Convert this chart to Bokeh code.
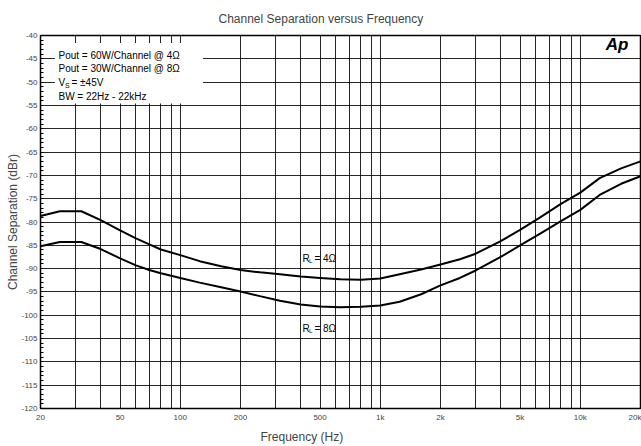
from bokeh.plotting import figure
from bokeh.models import FixedTicker, Range1d, Title
from bokeh.core.properties import value
from bokeh.embed import file_html
from bokeh.resources import INLINE

# ---- data ----
freq = [20, 25, 32, 40, 50, 60, 70, 80, 100, 125, 160, 200, 250, 315, 400, 500,
        630, 800, 1000, 1250, 1600, 2000, 2500, 3000, 4000, 5000, 6300, 8000, 10000,
        12500, 16000, 20000]
sep_4ohm = [-78.7, -77.7, -77.7, -79.6, -81.8, -83.5, -84.8, -85.9, -87.1, -88.4,
            -89.5, -90.3, -90.8, -91.2, -91.7, -92.0, -92.3, -92.4, -92.1, -91.2,
            -90.2, -89.1, -88.0, -86.8, -84.1, -81.7, -79.0, -76.1, -73.7, -70.6,
            -68.5, -67.0]
sep_8ohm = [-85.2, -84.3, -84.3, -85.8, -87.8, -89.3, -90.3, -91.0, -92.0, -93.0,
            -94.0, -94.9, -95.9, -96.9, -97.7, -98.1, -98.3, -98.2, -97.9, -97.1,
            -95.5, -93.6, -92.0, -90.4, -87.5, -85.0, -82.5, -79.8, -77.4, -74.2,
            -71.8, -70.2]

x_ticks = [20, 50, 100, 200, 500, 1000, 2000, 5000, 10000, 20000]
x_tick_labels = ["20", "50", "100", "200", "500", "1k", "2k", "5k", "10k", "20k"]
x_grid = [20, 30, 40, 50, 60, 70, 80, 90, 100, 200, 300, 400, 500, 600, 700, 800,
          900, 1000, 2000, 3000, 4000, 5000, 6000, 7000, 8000, 9000, 10000, 20000]
y_ticks = [-120, -115, -110, -105, -100, -95, -90, -85, -80, -75, -70, -65, -60,
           -55, -50, -45, -40]
y_minor = list(range(-120, -39))
y_tick_labels = [str(v) for v in y_ticks]

title_text = "Channel Separation versus Frequency"
x_label = "Frequency (Hz)"
y_label = "Channel Separation (dBr)"
info_lines = ["Pout = 60W/Channel @ 4\u03a9", "Pout = 30W/Channel @ 8\u03a9"]
info_bw = "BW = 22Hz - 22kHz"
vs_rest = "= \u00b145V"
rl_values = ["= 4\u03a9", "= 8\u03a9"]

FONT = "Liberation Sans"

p = figure(width=641, height=446, x_axis_type="log",
           x_range=Range1d(20, 20000), y_range=Range1d(-120, -40),
           output_backend="svg", toolbar_location=None,
           min_border_left=40, min_border_right=1, min_border_top=35,
           min_border_bottom=38)

p.background_fill_color = "white"
p.border_fill_color = "white"
p.outline_line_color = "black"
p.outline_line_width = 1.5

# title
p.title.text = title_text
p.title.align = "left"
p.title.offset = 178
p.title.standoff = 19
p.title.text_font = FONT
p.title.text_font_size = "12px"
p.title.text_font_style = "normal"

# x axis
p.xaxis.ticker = FixedTicker(ticks=x_ticks)
p.xaxis.major_label_overrides = dict(zip(x_ticks, x_tick_labels))
p.xaxis.major_label_text_font = FONT
p.xaxis.major_label_text_font_size = "8px"
p.xaxis.major_tick_in = 0
p.xaxis.major_tick_out = 0
p.xaxis.minor_tick_in = 0
p.xaxis.minor_tick_out = 0
p.xaxis.axis_line_color = "black"
p.xaxis.major_label_standoff = 4

p.add_layout(Title(text=x_label, align="left", offset=220, standoff=6,
                   text_font=FONT, text_font_size="12px",
                   text_font_style="normal"), "below")

# y axis
p.yaxis.ticker = FixedTicker(ticks=y_ticks, minor_ticks=y_minor)
p.yaxis.major_label_overrides = dict(zip(y_ticks, y_tick_labels))
p.yaxis.major_label_text_font = FONT
p.yaxis.major_label_text_font_size = "8px"
p.yaxis.major_tick_in = 0
p.yaxis.major_tick_out = 0
p.yaxis.minor_tick_in = 3
p.yaxis.minor_tick_out = 0
p.yaxis.major_label_standoff = 3
p.yaxis.axis_label = y_label
p.yaxis.axis_label_text_font = FONT
p.yaxis.axis_label_text_font_size = "12px"
p.yaxis.axis_label_text_font_style = "normal"
p.yaxis.axis_label_standoff = -2
p.yaxis.axis_line_color = "black"

# grids
p.xgrid.ticker = FixedTicker(ticks=x_grid)
p.xgrid.grid_line_color = "black"
p.xgrid.grid_line_alpha = 0.85
p.xgrid.grid_line_width = 1
p.ygrid.ticker = FixedTicker(ticks=y_ticks)
p.ygrid.grid_line_color = "black"
p.ygrid.grid_line_alpha = 0.85
p.ygrid.grid_line_width = 1

# info box covering the grid
p.quad(left=[23.6], right=[130], top=[-41.6], bottom=[-54.6],
       fill_color="white", line_color=None)

# curves
p.line(freq, sep_4ohm, line_color="black", line_width=2)
p.line(freq, sep_8ohm, line_color="black", line_width=2)

# info text
tx = 24.6
p.text(x=[tx, tx], y=[-44.3, -47.1], text=info_lines, text_font=value(FONT),
       text_font_size="10px", text_baseline="middle", text_color="black")
p.text(x=[tx], y=[-50.1], text=["V"], text_font=value(FONT),
       text_font_size="10px", text_baseline="middle", text_color="black")
p.text(x=[tx], y=[-50.1], text=["S"], text_font=value(FONT), x_offset=6.5,
       y_offset=3, text_font_size="7px", text_baseline="middle", text_color="black")
p.text(x=[tx], y=[-50.1], text=[vs_rest], text_font=value(FONT), x_offset=13,
       text_font_size="10px", text_baseline="middle", text_color="black")
p.text(x=[tx], y=[-53.0], text=[info_bw], text_font=value(FONT),
       text_font_size="10px", text_baseline="middle", text_color="black")

# R_L labels
rx = 408
ry = [-87.8, -102.8]
p.text(x=[rx, rx], y=ry, text=["R", "R"], text_font=value(FONT),
       text_font_size="10px", text_baseline="middle", text_color="black")
p.text(x=[rx, rx], y=ry, text=["L", "L"], text_font=value(FONT), x_offset=6.5,
       y_offset=3, text_font_size="6px", text_baseline="middle", text_color="black")
p.text(x=[rx, rx], y=ry, text=rl_values, text_font=value(FONT), x_offset=12,
       text_font_size="10px", text_baseline="middle", text_color="black")

# Ap logo
p.text(x=[13400], y=[-42.0], text=["Ap"], text_font=value(FONT),
       text_font_size="17px", text_font_style="bold italic",
       text_baseline="middle", text_color="black")

open("out.html", "w").write(file_html(p, INLINE))
